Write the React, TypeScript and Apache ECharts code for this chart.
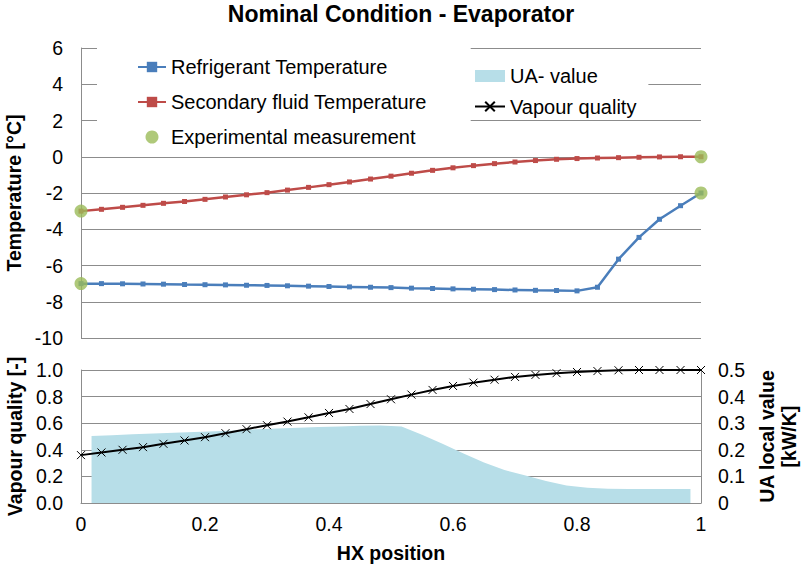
import React, { useEffect, useRef } from "react";
import * as echarts from "echarts";

// Position along the heat exchanger (node points)
const hxPosition = [
  0, 0.033, 0.067, 0.1, 0.133, 0.167, 0.2, 0.233, 0.267, 0.3, 0.333, 0.367, 0.4, 0.433, 0.467, 0.5,
  0.533, 0.567, 0.6, 0.633, 0.667, 0.7, 0.733, 0.767, 0.8, 0.833, 0.867, 0.9, 0.933, 0.967, 1,
];

// Refrigerant temperature [°C]
const refrigerantTemp = [
  -7.0, -7.0, -7.01, -7.02, -7.03, -7.05, -7.06, -7.07, -7.09, -7.1, -7.12, -7.14, -7.16, -7.18, -7.2,
  -7.22, -7.25, -7.27, -7.29, -7.31, -7.33, -7.35, -7.37, -7.38, -7.4, -7.2, -5.65, -4.45, -3.45, -2.7, -2.0,
];

// Secondary fluid temperature [°C]
const secondaryTemp = [
  -3.0, -2.9, -2.79, -2.68, -2.57, -2.47, -2.35, -2.22, -2.1, -1.98, -1.84, -1.69, -1.54, -1.39, -1.23,
  -1.07, -0.91, -0.75, -0.61, -0.49, -0.38, -0.29, -0.21, -0.14, -0.1, -0.07, -0.05, -0.03, -0.01, 0.0, 0.0,
];

// Measured inlet / outlet temperatures [position, °C]
const experimental: [number, number][] = [
  [0, -7],
  [0, -3],
  [1, 0],
  [1, -2],
];

// Vapour quality [-]
const vapourQuality = [
  0.36, 0.38, 0.4, 0.42, 0.445, 0.47, 0.495, 0.525, 0.555, 0.585, 0.612, 0.644, 0.677, 0.707, 0.744,
  0.78, 0.815, 0.85, 0.88, 0.905, 0.927, 0.948, 0.963, 0.976, 0.985, 0.992, 0.998, 1.0, 1.0, 1.0, 1.0,
];

// Cell mid-points and local UA value [kW/K]
const uaPosition = [
  0.017, 0.05, 0.083, 0.117, 0.15, 0.183, 0.217, 0.25, 0.283, 0.317, 0.35, 0.383, 0.417, 0.45, 0.483,
  0.517, 0.55, 0.583, 0.617, 0.65, 0.683, 0.717, 0.75, 0.783, 0.817, 0.85, 0.883, 0.917, 0.95, 0.983,
];
const uaValue = [
  0.252, 0.255, 0.258, 0.261, 0.264, 0.267, 0.27, 0.273, 0.277, 0.28, 0.283, 0.286, 0.288, 0.29, 0.291,
  0.288, 0.257, 0.223, 0.186, 0.152, 0.124, 0.103, 0.083, 0.066, 0.057, 0.054, 0.053, 0.053, 0.053, 0.053,
];

const FONT = "'Liberation Sans', Arial, sans-serif";
const GRID_COLOR = "#8c8c8c";
const CROSS = "path://M0,0L10,10M10,0L0,10";

const zip = (xs: number[], ys: number[]) => xs.map((x, i) => [x, ys[i]]);

export default function App() {
  const ref = useRef<HTMLDivElement>(null);

  useEffect(() => {
    if (!ref.current) return;
    const chart = echarts.init(ref.current, undefined, { renderer: "svg" });

    const labelStyle = { color: "#000", fontSize: 19.5, fontFamily: FONT };
    const legendText = { color: "#000", fontSize: 20, fontFamily: FONT, lineHeight: 22 };
    const nameStyle = { color: "#000", fontSize: 19.5, fontWeight: "bold" as const, fontFamily: FONT };
    const axisLine = { show: true, lineStyle: { color: GRID_COLOR, width: 1 } };
    const splitLine = { show: true, lineStyle: { color: GRID_COLOR, width: 1 } };

    chart.setOption({
      animation: false,
      textStyle: { fontFamily: FONT },
      title: {
        text: "Nominal Condition - Evaporator",
        left: "center",
        top: 4,
        padding: 0,
        textStyle: {
          color: "#000",
          fontSize: 23,
          lineHeight: 19,
          fontWeight: "bold",
          fontFamily: FONT,
        },
      },
      legend: [
        {
          data: ["Refrigerant Temperature", "Secondary fluid Temperature", "Experimental measurement"],
          orient: "vertical",
          left: 97,
          top: 46,
          backgroundColor: "#fff",
          padding: [10, 44, 5, 40],
          itemGap: 13,
          itemWidth: 28,
          itemHeight: 13,
          textStyle: legendText,
        },
        {
          data: [{ name: "UA- value", icon: "rect" }, { name: "Vapour quality" }],
          orient: "vertical",
          left: 470,
          top: 55,
          backgroundColor: "#fff",
          padding: [10, 12, 1, 4],
          itemGap: 8.5,
          itemWidth: 30,
          itemHeight: 12,
          textStyle: legendText,
        },
      ],
      grid: [
        { left: 81, right: 101, top: 48, height: 290, outerBoundsMode: "none" },
        { left: 81, right: 101, top: 370, height: 133, outerBoundsMode: "none" },
      ],
      xAxis: [
        { gridIndex: 0, type: "value", min: 0, max: 1, show: false },
        {
          gridIndex: 1,
          type: "value",
          min: 0,
          max: 1,
          interval: 0.2,
          axisLine,
          axisTick: { show: false },
          splitLine: { show: false },
          axisLabel: { ...labelStyle, margin: 11, formatter: (v: number) => String(+v.toFixed(1)) },
          name: "HX position",
          nameLocation: "middle",
          nameGap: 40,
          nameTextStyle: nameStyle,
        },
      ],
      yAxis: [
        {
          gridIndex: 0,
          type: "value",
          min: -10,
          max: 6,
          interval: 2,
          axisLine,
          axisTick: { show: false },
          splitLine,
          axisLabel: { ...labelStyle, margin: 18 },
          name: "Temperature [°C]",
          nameLocation: "middle",
          nameGap: 49,
          nameTextStyle: nameStyle,
        },
        {
          gridIndex: 1,
          type: "value",
          min: 0,
          max: 1,
          interval: 0.2,
          axisLine,
          axisTick: { show: false },
          splitLine,
          axisLabel: { ...labelStyle, margin: 18, formatter: (v: number) => v.toFixed(1) },
          name: "Vapour quality [-]",
          nameLocation: "middle",
          nameGap: 49,
          nameTextStyle: nameStyle,
        },
        {
          gridIndex: 1,
          type: "value",
          position: "right",
          min: 0,
          max: 0.5,
          interval: 0.1,
          axisLine,
          axisTick: { show: false },
          splitLine: { show: false },
          axisLabel: {
            ...labelStyle,
            margin: 17,
            formatter: (v: number) => (v === 0 ? "0" : v.toFixed(1)),
          },
          name: "UA local value\n[kW/K]",
          nameLocation: "middle",
          nameRotate: 90,
          nameGap: 55,
          nameTextStyle: { ...nameStyle, lineHeight: 22 },
        },
      ],
      series: [
        {
          name: "Refrigerant Temperature",
          type: "line",
          xAxisIndex: 0,
          yAxisIndex: 0,
          data: zip(hxPosition, refrigerantTemp),
          color: "#4A7EBB",
          lineStyle: { width: 2.5 },
          symbol: "rect",
          symbolSize: 5,
          z: 3,
        },
        {
          name: "Secondary fluid Temperature",
          type: "line",
          xAxisIndex: 0,
          yAxisIndex: 0,
          data: zip(hxPosition, secondaryTemp),
          color: "#BE4B48",
          lineStyle: { width: 2.5 },
          symbol: "rect",
          symbolSize: 5,
          z: 3,
        },
        {
          name: "Experimental measurement",
          type: "scatter",
          xAxisIndex: 0,
          yAxisIndex: 0,
          data: experimental,
          color: "#9BBB59",
          symbolSize: 13,
          clip: false,
          z: 5,
        },
        {
          name: "UA- value",
          type: "line",
          xAxisIndex: 1,
          yAxisIndex: 2,
          data: zip(uaPosition, uaValue),
          color: "#B7DEE8",
          symbol: "none",
          lineStyle: { width: 0 },
          areaStyle: { color: "#B7DEE8", opacity: 1 },
          z: 2,
        },
        {
          name: "Vapour quality",
          type: "line",
          xAxisIndex: 1,
          yAxisIndex: 1,
          data: zip(hxPosition, vapourQuality),
          color: "#000",
          lineStyle: { width: 2, color: "#000" },
          symbol: CROSS,
          symbolSize: 8,
          itemStyle: { color: "#000", borderColor: "#000", borderWidth: 1 },
          clip: false,
          z: 3,
        },
      ],
    });

    return () => chart.dispose();
  }, []);

  return (
    <div
      ref={ref}
      style={{ position: "fixed", left: 0, top: 0, width: 802, height: 570, background: "#fff" }}
    />
  );
}
